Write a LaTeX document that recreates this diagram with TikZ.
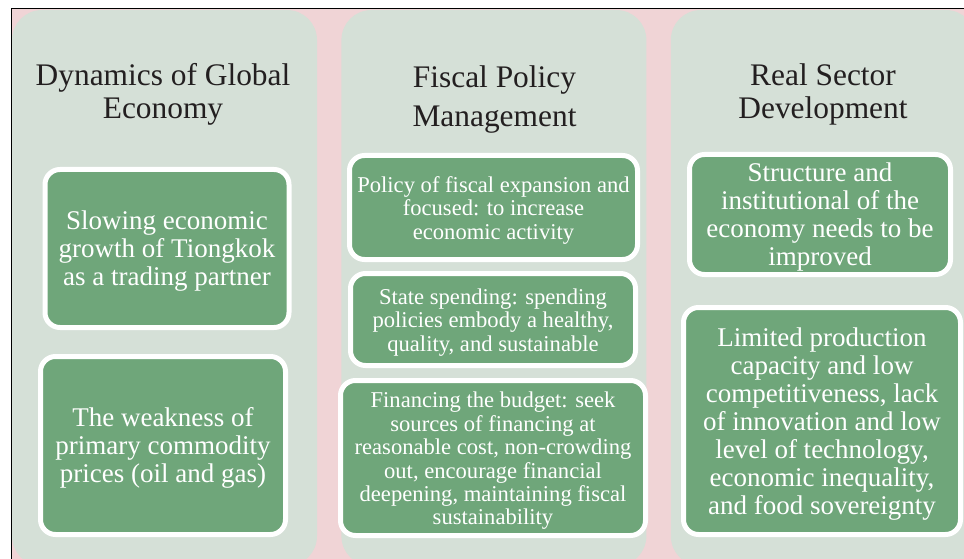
\documentclass[tikz,border=0pt]{standalone}
\usepackage{fontspec}
\setmainfont{Liberation Serif}
\usepackage{xcolor}
\usepackage{tikz}
\usetikzlibrary{positioning}
\definecolor{pinkbg}{RGB}{240,212,214}
\definecolor{panelgray}{RGB}{213,224,215}
\definecolor{boxgreen}{RGB}{111,166,122}
\definecolor{titleink}{RGB}{35,31,32}
\newcommand{\bigstrut}{\rule{0pt}{24.5pt}}
\newcommand{\smallstrut}{\rule{0pt}{21.5pt}}

\begin{document}
\begin{tikzpicture}[x=1pt,y=-1pt,
    panel/.style={fill=panelgray, rounded corners=30pt, inner sep=0pt, minimum width=305pt, minimum height=556pt},
    heading/.style={text=titleink, align=center, inner sep=0pt, font=\fontsize{31.4}{33}\selectfont},
    greenbox/.style={fill=boxgreen, draw=white, line width=5pt, rounded corners=15pt, text=white, align=center, inner sep=0pt},
    bigbox/.style={greenbox, font=\fontsize{27}{28}\selectfont},
    smallbox/.style={greenbox, font=\fontsize{22.6}{23.4}\selectfont}]
    \useasboundingbox (0,0) rectangle (964,559);
    \clip (0,0) rectangle (964,559);
    \fill[pinkbg] (11,9) rectangle (964,559);

    % Columns
    \node[panel] (global) at (164.5,288) {};
    \node[panel, right=24pt of global] (fiscal) {};
    \node[panel, right=24pt of fiscal] (sector) {};

    % Headings
    \node[heading] (globalhead) at (163,94) {Dynamics of Global\\Economy};
    \node[heading, font=\fontsize{31.4}{39}\selectfont] (fiscalhead) at (494.5,99.5) {Fiscal Policy\\Management};
    \node[heading] (sectorhead) at (823,94) {Real Sector\\Development};

    % Global economy
    \node[bigbox, minimum width=244pt, minimum height=158pt] (slowing) at (167,248.5) {\bigstrut Slowing economic\\growth of Tiongkok\\as a trading partner};
    \node[bigbox, minimum width=245pt, minimum height=178pt] (weakness) at (163,445.5) {\bigstrut The weakness of\\primary commodity\\prices (oil and gas)};

    % Fiscal policy
    \node[smallbox, minimum width=288pt, minimum height=104pt] (expansion) at (493.5,207.5) {\smallstrut Policy of fiscal expansion and\\focused: to increase\\economic activity};
    \node[smallbox, minimum width=285pt, minimum height=92pt] (spending) at (493,319.5) {\smallstrut State spending: spending\\policies embody a healthy,\\quality, and sustainable};
    \node[smallbox, minimum width=305pt, minimum height=155pt] (financing) at (493,458) {\smallstrut Financing the budget: seek\\sources of financing at\\reasonable cost, non-crowding\\out, encourage financial\\deepening, maintaining fiscal\\sustainability};

    % Real sector
    \node[bigbox, minimum width=261pt, minimum height=120pt] (structure) at (820,214.5) {\bigstrut Structure and\\institutional of the\\economy needs to be\\improved};
    \node[bigbox, minimum width=277pt, minimum height=227pt] (capacity) at (822,421) {\bigstrut Limited production\\capacity and low\\competitiveness, lack\\of innovation and low\\level of technology,\\economic inequality,\\and food sovereignty};

    % Frame
    \draw[black, line width=1pt] (11,559) -- (11,9) -- (964,9);
\end{tikzpicture}
\end{document}
